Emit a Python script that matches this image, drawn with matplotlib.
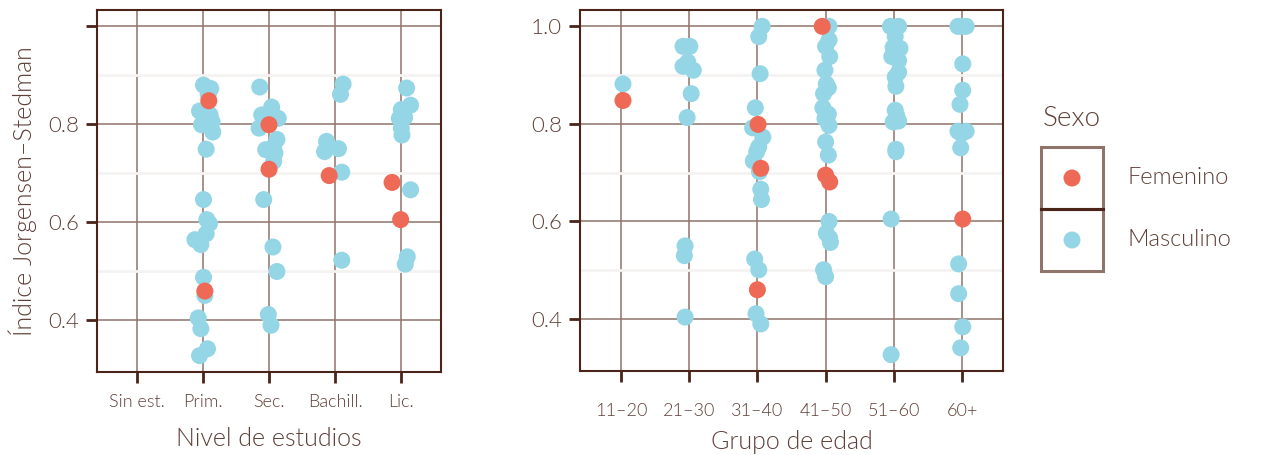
import matplotlib
matplotlib.use("Agg")
import matplotlib.pyplot as plt
from matplotlib.patches import Rectangle

# ---- data -------------------------------------------------------------
edu_levels = ["Sin est.", "Prim.", "Sec.", "Bachill.", "Lic."]
age_groups = ["11–20", "21–30", "31–40", "41–50", "51–60", "60+"]
sex_levels = ["Femenino", "Masculino"]

# Education panel (F = femenino, M = masculino); jitter is the horizontal
# offset of each point from its category centre.
edu_cat = ["Prim."] * 23 + ["Sec."] * 17 + ["Bachill."] * 8 + ["Lic."] * 12
edu_val = [0.880, 0.873, 0.861, 0.848, 0.827, 0.819, 0.805, 0.799, 0.784, 0.749,
           0.646, 0.605, 0.597, 0.576, 0.564, 0.554, 0.487, 0.459, 0.450, 0.404,
           0.382, 0.341, 0.327,
           0.876, 0.835, 0.819, 0.812, 0.799, 0.792, 0.769, 0.754, 0.748, 0.741,
           0.724, 0.708, 0.646, 0.549, 0.499, 0.411, 0.389,
           0.882, 0.861, 0.765, 0.750, 0.744, 0.702, 0.695, 0.522,
           0.874, 0.839, 0.830, 0.814, 0.812, 0.792, 0.778, 0.681, 0.666, 0.605,
           0.529, 0.514]
edu_sex = list("MMMFMMMMMMMMMMMMMFMMMMM"
               "MMMMFMMMMMMFMMMMM"
               "MMMMMMFM"
               "MMMMMMMFMFMM")
edu_jit = [0.01, 0.12, 0.08, 0.09, -0.05, 0.11, 0.14, -0.02, 0.15, 0.05,
           0.01, 0.06, 0.10, 0.05, -0.12, -0.03, 0.01, 0.03, 0.03, -0.07,
           -0.03, 0.07, -0.05,
           -0.14, 0.04, -0.11, 0.14, 0.00, -0.15, 0.12, 0.07, -0.05, 0.09,
           0.07, 0.00, -0.08, 0.06, 0.12, -0.01, 0.03,
           0.12, 0.08, -0.13, 0.05, -0.16, 0.10, -0.09, 0.10,
           0.08, 0.14, 0.00, 0.05, -0.03, 0.00, 0.01, -0.14, 0.14, -0.01,
           0.09, 0.06]

# Age panel
age_cat = (["11–20"] * 2 + ["21–30"] * 10 + ["31–40"] * 19 + ["41–50"] * 23
           + ["51–60"] * 18 + ["60+"] * 15)
age_val = [0.882, 0.848,
           0.959, 0.959, 0.927, 0.918, 0.910, 0.862, 0.813, 0.550, 0.530, 0.404,
           1.000, 0.979, 0.903, 0.833, 0.799, 0.792, 0.773, 0.753, 0.743, 0.724,
           0.709, 0.702, 0.666, 0.645, 0.523, 0.501, 0.460, 0.411, 0.390,
           1.000, 1.000, 0.972, 0.959, 0.938, 0.910, 0.882, 0.874, 0.862, 0.833,
           0.820, 0.811, 0.797, 0.763, 0.736, 0.695, 0.681, 0.600, 0.576, 0.566,
           0.557, 0.501, 0.487,
           1.000, 1.000, 0.979, 0.957, 0.955, 0.938, 0.930, 0.906, 0.896, 0.877,
           0.828, 0.818, 0.806, 0.804, 0.748, 0.743, 0.605, 0.327,
           1.000, 1.000, 1.000, 0.923, 0.869, 0.840, 0.785, 0.785, 0.780, 0.751,
           0.605, 0.513, 0.452, 0.384, 0.341]
age_sex = list("MF"
               "MMMMMMMMMM"
               "MMMMFMMMMMFMMMMMFMM"
               "FMMMMMMMMMMMMMMFFMMMMMM"
               "MMMMMMMMMMMMMMMMMM"
               "MMMMMMMMMMFMMMM")
age_jit = [0.03, 0.03,
           -0.09, 0.01, -0.02, -0.09, 0.06, 0.03, -0.03, -0.06, -0.07, -0.06,
           0.07, 0.02, 0.04, -0.03, 0.01, -0.07, 0.08, 0.02, -0.01, -0.06,
           0.05, 0.03, 0.05, 0.06, -0.04, 0.02, 0.00, -0.02, 0.05,
           -0.05, 0.05, 0.05, 0.00, 0.06, -0.01, 0.01, 0.04, -0.03, -0.04,
           0.04, -0.01, 0.05, 0.00, 0.04, 0.00, 0.06, 0.05, 0.01, 0.06,
           0.07, -0.03, 0.00,
           -0.05, 0.07, 0.02, -0.01, 0.09, -0.03, 0.07, 0.07, 0.02, 0.03,
           0.02, 0.04, 0.07, -0.01, 0.03, 0.03, -0.04, -0.04,
           -0.06, 0.06, 0.00, 0.01, 0.01, -0.03, -0.06, 0.06, -0.01, -0.02,
           0.01, -0.05, -0.05, 0.01, -0.02]

y_ticks = [0.4, 0.6, 0.8, 1.0]
y_tick_labels = ["0.4", "0.6", "0.8", "1.0"]

# ---- style ------------------------------------------------------------
FAM = ["Lato", "DejaVu Sans"]
WT = 300
plt.rcParams["font.family"] = FAM
plt.rcParams["font.weight"] = WT
plt.rcParams["axes.labelweight"] = WT

TEXT = "#5e3f37"
FRAME = "#4b2419"
GRID = "#8f746b"
MINOR = "#f5f3f2"
COLORS = {"F": "#ee6a56", "M": "#94d6e6"}
PT = 150

W, H = 1270, 455
fig = plt.figure(figsize=(W / 100, H / 100), dpi=100)


def px_axes(x0, y0, x1, y1):
    return fig.add_axes([x0 / W, 1 - y1 / H, (x1 - x0) / W, (y1 - y0) / H])


def style(ax, cats, show_top_label):
    ax.set_xlim(0.4, len(cats) + 0.6)
    ax.set_ylim(0.2935, 1.0335)
    ax.set_xticks(range(1, len(cats) + 1))
    ax.set_xticklabels(cats, fontsize=13, fontweight=WT, color=TEXT)
    ax.set_yticks(y_ticks)
    labels = list(y_tick_labels)
    if not show_top_label:
        labels[-1] = ""
    ax.set_yticklabels(labels, fontsize=16, fontweight=WT, color=TEXT)
    ax.set_yticks([0.5, 0.7, 0.9], minor=True)
    ax.grid(True, which="major", color=GRID, lw=1.1, zorder=0)
    ax.grid(True, which="minor", axis="y", color=MINOR, lw=2.0, zorder=0)
    ax.tick_params(which="minor", length=0)
    ax.tick_params(which="major", direction="out", length=8, width=2,
                   color=FRAME, pad=5)
    ax.set_axisbelow(True)
    for s in ax.spines.values():
        s.set_color(FRAME)
        s.set_linewidth(1.5)


def draw(ax, cats, cat_list, vals, sexes, jit):
    idx = {c: i + 1 for i, c in enumerate(cats)}
    for sx in ["M", "F"]:
        xs = [idx[c] + j for c, s, j in zip(cat_list, sexes, jit) if s == sx]
        ys = [v for v, s in zip(vals, sexes) if s == sx]
        ax.scatter(xs, ys, s=PT, color=COLORS[sx], edgecolors="none", zorder=3)


ax1 = px_axes(97, 10, 441, 372)
style(ax1, edu_levels, False)
draw(ax1, edu_levels, edu_cat, edu_val, edu_sex, edu_jit)
ax1.tick_params(axis="x", pad=8)
ax1.set_xlabel("Nivel de estudios", fontsize=18, fontweight=WT, color=TEXT,
               labelpad=12)
ax1.set_ylabel("Índice Jorgensen–Stedman", fontsize=18, fontweight=WT,
               color=TEXT, labelpad=8)

ax2 = px_axes(580, 10, 1003, 371)
style(ax2, age_groups, True)
draw(ax2, age_groups, age_cat, age_val, age_sex, age_jit)
ax2.tick_params(axis="x", pad=15)
ax2.set_xlabel("Grupo de edad", fontsize=18, fontweight=WT, color=TEXT,
               labelpad=8)

# legend
lg = px_axes(1030, 90, 1270, 290)
lg.set_xlim(1030, 1270)
lg.set_ylim(290, 90)
lg.axis("off")
lg.text(1043, 118, "Sexo", fontsize=20, fontweight=WT, color=TEXT,
        va="center", ha="left")
for k, (lab, key) in enumerate(zip(sex_levels, ["F", "M"])):
    y0 = 147 + k * 62
    lg.add_patch(Rectangle((1041, y0), 62, 62, fill=False, ec=GRID, lw=2.2))
    lg.scatter([1072], [y0 + 31], s=PT, color=COLORS[key], edgecolors="none")
    lg.text(1127, y0 + 31, lab, fontsize=17, fontweight=WT, color=TEXT,
            va="center", ha="left")
lg.plot([1041, 1103], [209, 209], color=FRAME, lw=2.2)

fig.savefig("out.png", dpi=100)
